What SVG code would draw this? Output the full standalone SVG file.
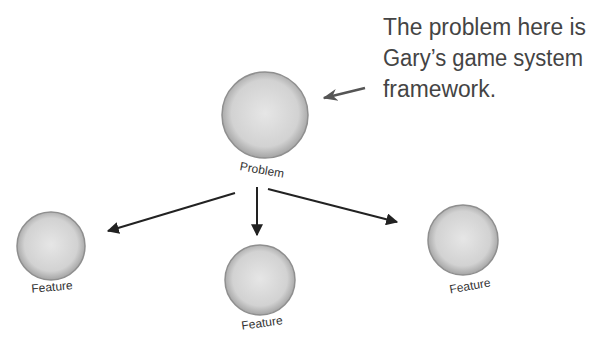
<svg xmlns="http://www.w3.org/2000/svg" width="599" height="337" viewBox="0 0 599 337">
<defs>
<radialGradient id="ball" cx="50%" cy="48%" r="52%">
<stop offset="0%" stop-color="#e6e6e6"/>
<stop offset="75%" stop-color="#d2d2d2"/>
<stop offset="100%" stop-color="#a4a4a4"/>
</radialGradient>
<marker id="ah" viewBox="0 0 10 10" refX="9" refY="5" markerWidth="6" markerHeight="6" orient="auto" markerUnits="strokeWidth">
<path d="M0,0 L10,5 L0,10 z" fill="#222"/>
</marker>
<marker id="ah2" viewBox="0 0 10 10" refX="9" refY="5" markerWidth="6" markerHeight="6" orient="auto" markerUnits="strokeWidth">
<path d="M0,1 L10,5 L0,9 L3,5 z" fill="#555"/>
</marker>
</defs>
<style>
.ball{fill:url(#ball);stroke:#8f8f8f;stroke-width:1.5}
.lbl{font-family:"Liberation Sans",Arial,sans-serif;font-size:12px;fill:#333;text-anchor:middle}
.note{font-family:"Liberation Sans",Arial,sans-serif;font-size:23px;fill:#444}
.conn{stroke:#222;stroke-width:2;fill:none;marker-end:url(#ah)}
</style>
<rect width="599" height="337" fill="#fff"/>
<g id="problem">
<circle class="ball" cx="265" cy="115" r="43"/>
<text class="lbl" x="262" y="174" transform="rotate(10 262 170)">Problem</text>
</g>
<g id="feature-left">
<circle class="ball" cx="51" cy="246" r="34"/>
<text class="lbl" x="52" y="291" transform="rotate(-5 52 287)">Feature</text>
</g>
<g id="feature-middle">
<circle class="ball" cx="260" cy="280" r="35"/>
<text class="lbl" x="262" y="327" transform="rotate(-8 262 323)">Feature</text>
</g>
<g id="feature-right">
<circle class="ball" cx="463" cy="240" r="35"/>
<text class="lbl" x="470" y="290" transform="rotate(-10 470 286)">Feature</text>
</g>
<g id="note">
<text class="note" x="383" y="35" textLength="203" lengthAdjust="spacingAndGlyphs">The problem here is</text>
<text class="note" x="383" y="66" textLength="200" lengthAdjust="spacingAndGlyphs">Gary’s game system</text>
<text class="note" x="383" y="97" textLength="113" lengthAdjust="spacingAndGlyphs">framework.</text>
</g>
<g id="connectors">
<line class="conn" x1="235" y1="193" x2="108" y2="231"/>
<line class="conn" x1="257" y1="187" x2="257" y2="235"/>
<line class="conn" x1="268" y1="189" x2="397" y2="222"/>
<line x1="365" y1="88" x2="324" y2="98" stroke="#555" stroke-width="2.5" marker-end="url(#ah2)"/>
</g>
</svg>
